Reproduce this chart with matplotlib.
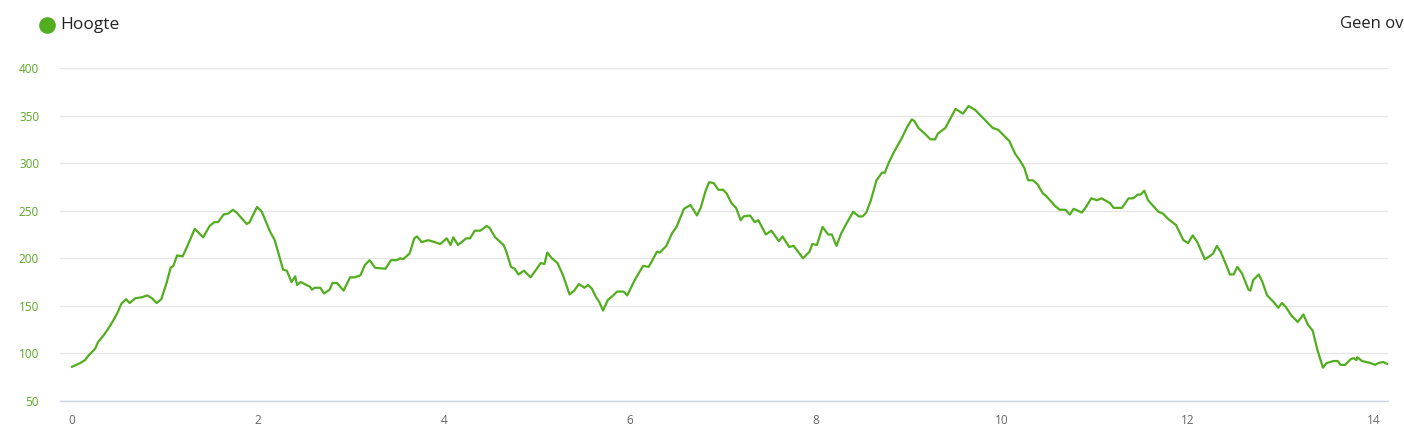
import matplotlib
matplotlib.use("Agg")
import matplotlib.pyplot as plt
from matplotlib.lines import Line2D

# hoogteprofiel: afstand (km) en hoogte (m)
afstand_km = [
    0.00, 0.09, 0.14, 0.18, 0.21, 0.25, 0.28, 0.34, 0.39, 0.44, 0.49, 0.53,
    0.58, 0.62, 0.68, 0.75, 0.81, 0.86, 0.91, 0.96, 1.02, 1.06, 1.09, 1.13,
    1.19, 1.25, 1.32, 1.41, 1.48, 1.53, 1.57, 1.63, 1.68, 1.73, 1.77, 1.88,
    1.91, 1.99, 2.04, 2.13, 2.18, 2.27, 2.31, 2.36, 2.40, 2.42, 2.46, 2.56,
    2.58, 2.61, 2.67, 2.71, 2.77, 2.80, 2.85, 2.92, 2.99, 3.04, 3.10, 3.15,
    3.20, 3.26, 3.37, 3.43, 3.49, 3.53, 3.56, 3.63, 3.68, 3.71, 3.76, 3.83,
    3.90, 3.96, 4.03, 4.07, 4.10, 4.15, 4.24, 4.28, 4.33, 4.39, 4.46, 4.49,
    4.55, 4.64, 4.67, 4.72, 4.76, 4.80, 4.86, 4.93, 4.99, 5.04, 5.08, 5.11,
    5.16, 5.22, 5.28, 5.35, 5.40, 5.45, 5.51, 5.55, 5.59, 5.63, 5.67, 5.71,
    5.76, 5.82, 5.86, 5.93, 5.97, 6.05, 6.14, 6.20, 6.23, 6.29, 6.32, 6.39,
    6.45, 6.50, 6.58, 6.65, 6.72, 6.76, 6.81, 6.85, 6.90, 6.95, 7.00, 7.04,
    7.09, 7.14, 7.19, 7.22, 7.29, 7.34, 7.38, 7.46, 7.52, 7.60, 7.64, 7.71,
    7.76, 7.86, 7.93, 7.96, 8.01, 8.07, 8.13, 8.17, 8.22, 8.27, 8.33, 8.40,
    8.46, 8.50, 8.54, 8.59, 8.65, 8.71, 8.74, 8.78, 8.84, 8.92, 8.98, 9.03,
    9.06, 9.10, 9.17, 9.23, 9.28, 9.31, 9.39, 9.44, 9.50, 9.58, 9.64, 9.71,
    9.80, 9.90, 9.96, 10.02, 10.08, 10.14, 10.19, 10.24, 10.28, 10.33, 10.38,
    10.44, 10.47, 10.57, 10.62, 10.68, 10.73, 10.77, 10.86, 10.91, 10.96,
    11.02, 11.07, 11.16, 11.20, 11.29, 11.36, 11.41, 11.46, 11.49, 11.53,
    11.57, 11.68, 11.73, 11.79, 11.87, 11.95, 12.00, 12.05, 12.10, 12.18,
    12.23, 12.27, 12.31, 12.35, 12.41, 12.45, 12.49, 12.53, 12.58, 12.65,
    12.67, 12.70, 12.76, 12.80, 12.85, 12.92, 12.97, 13.01, 13.05, 13.11,
    13.18, 13.24, 13.29, 13.34, 13.39, 13.45, 13.49, 13.53, 13.56, 13.61,
    13.64, 13.69, 13.75, 13.78, 13.81, 13.82, 13.87, 13.96, 14.01, 14.05,
    14.10, 14.14,
]
hoogte_m = [
    86, 90, 93, 98, 101, 105, 112, 119, 126, 134, 143, 152,
    157, 153, 158, 159, 161, 158, 153, 157, 175, 190, 192, 203,
    202, 215, 231, 222, 234, 238, 238, 246, 247, 251, 248, 236,
    238, 254, 249, 228, 219, 188, 187, 175, 181, 172, 175, 170,
    167, 169, 169, 163, 167, 174, 174, 166, 180, 180, 182, 193,
    198, 190, 189, 198, 198, 200, 199, 205, 221, 223, 217, 219,
    217, 215, 221, 214, 222, 214, 221, 221, 229, 229, 234, 232,
    222, 214, 207, 191, 189, 183, 187, 180, 188, 195, 194, 206,
    200, 195, 182, 162, 166, 173, 169, 172, 168, 160, 154, 145,
    156, 161, 165, 165, 161, 177, 192, 191, 196, 207, 206, 213,
    226, 233, 252, 256, 245, 253, 270, 280, 279, 272, 272, 268,
    258, 253, 240, 244, 245, 238, 240, 225, 229, 218, 223, 212,
    213, 200, 207, 215, 214, 233, 225, 225, 213, 226, 237, 249,
    244, 244, 248, 261, 282, 290, 290, 300, 312, 326, 338, 346,
    344, 337, 331, 325, 325, 331, 337, 346, 357, 352, 360, 356,
    347, 337, 335, 329, 323, 310, 303, 295, 282, 282, 278,
    268, 266, 255, 251, 251, 246, 252, 248, 255, 263,
    261, 263, 258, 253, 253, 263, 263, 267, 267, 271,
    261, 249, 247, 241, 235, 219, 216, 224, 217, 199,
    202, 205, 213, 207, 193, 183, 183, 191, 184, 167,
    166, 177, 183, 175, 161, 154, 148, 153, 149, 140,
    133, 141, 130, 124, 104, 85, 90, 91, 92, 92,
    88, 88, 94, 95, 93, 96, 92, 90, 88, 90,
    91, 89,
]
y_ticks = [50, 100, 150, 200, 250, 300, 350, 400]
x_ticks = [0, 2, 4, 6, 8, 10, 12, 14]

groen = "#52ad1f"

fig = plt.figure(figsize=(14.04, 4.37), dpi=100)
ax = fig.add_axes([60 / 1404, 36 / 437, 1328 / 1404, 333 / 437])

ax.plot(afstand_km, hoogte_m, color=groen, linewidth=1.6, solid_joinstyle="round")

ax.set_xlim(-0.129, 14.15)
ax.set_ylim(50, 400)
ax.set_yticks(y_ticks)
ax.set_xticks(x_ticks)
ax.grid(axis="y", color="#e6e6e6", linewidth=1)
ax.set_axisbelow(True)

for s in ["top", "right", "left"]:
    ax.spines[s].set_visible(False)
ax.spines["bottom"].set_color("#ccd6eb")
ax.spines["bottom"].set_linewidth(1)

ax.tick_params(axis="both", length=0)
ax.tick_params(axis="y", pad=15, labelsize=8.5, labelcolor="#5aa826")
ax.tick_params(axis="x", pad=9, labelsize=8.5, labelcolor="#666666")
for lbl in ax.get_xticklabels() + ax.get_yticklabels():
    lbl.set_fontfamily("Open Sans")

# legenda linksboven
fig.add_artist(Line2D([47 / 1404], [1 - 25 / 437], marker="o", markersize=11,
                      color=groen, linestyle="none", transform=fig.transFigure))
fig.text(60 / 1404, 1 - 25 / 437, "Hoogte", fontsize=12.5, color="#222222",
         family="Open Sans", va="center", ha="left")
# afgesneden tekst rechtsboven (ook in het origineel)
fig.text(1340 / 1404, 1 - 24 / 437, "Geen overlay", fontsize=12, color="#222222",
         family="Open Sans", va="center", ha="left")

fig.savefig("out.png", dpi=100)
